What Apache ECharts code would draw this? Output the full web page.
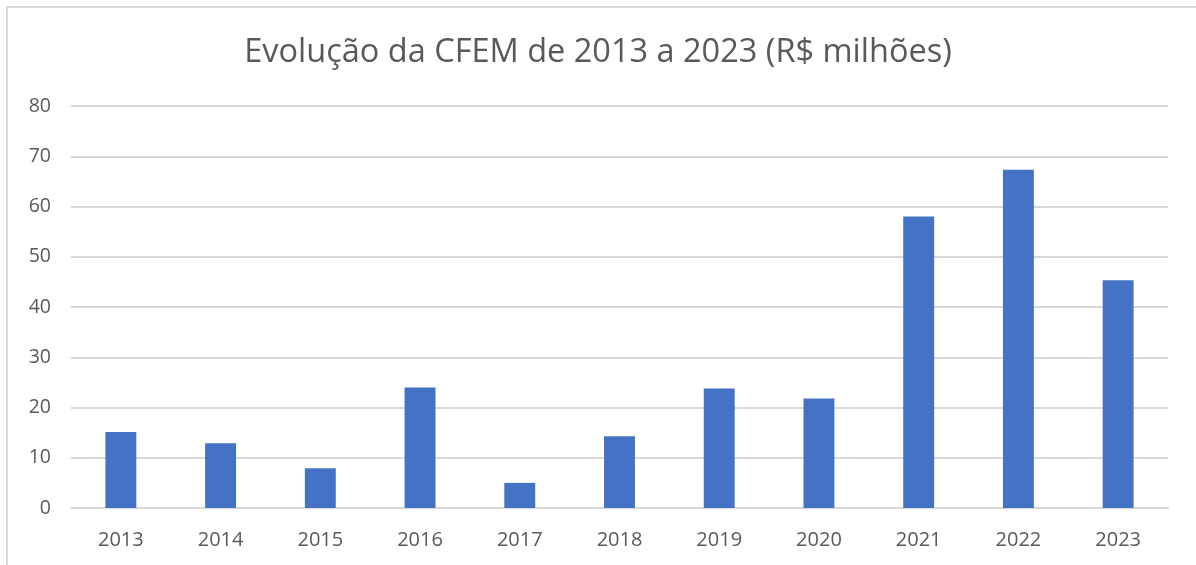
<!DOCTYPE html>
<html><head><meta charset="utf-8">
<script src="https://cdn.jsdelivr.net/npm/echarts@6/dist/echarts.min.js"></script>
<style>html,body{margin:0;padding:0;background:#fff}#c{width:1196px;height:565px}
#frame{position:absolute;left:6px;top:6px;width:1190px;height:560px;border-left:2px solid #d9d9d9;border-top:2px solid #d9d9d9;box-sizing:border-box;pointer-events:none}</style>
</head><body><div id="c"></div><div id="frame"></div>
<script>
const titleText = 'Evolução da CFEM de 2013 a 2023 (R$ milhões)';
const years = ['2013','2014','2015','2016','2017','2018','2019','2020','2021','2022','2023'];
const cfem = [15.1, 12.9, 7.9, 24.0, 5.0, 14.3, 23.8, 21.8, 58.0, 67.3, 45.3];
const yTicks = {min: 0, max: 80, interval: 10};

const chart = echarts.init(document.getElementById('c'), null, {renderer: 'canvas'});
chart.setOption({
  animation: false,
  backgroundColor: '#ffffff',
  textStyle: {fontFamily: 'Open Sans'},
  title: {
    text: titleText, left: 'center', top: 31,
    textStyle: {fontFamily: 'Open Sans', fontSize: 32.5, fontWeight: 'normal', color: '#595959'}
  },
  grid: {left: 71, right: 28, top: 106, bottom: 57},
  xAxis: {
    type: 'category', data: years,
    axisLine: {lineStyle: {color: '#d9d9d9', width: 2}},
    axisTick: {show: false},
    axisLabel: {color: '#595959', fontSize: 20, margin: 22}
  },
  yAxis: {
    type: 'value', min: yTicks.min, max: yTicks.max, interval: yTicks.interval,
    axisLine: {show: false}, axisTick: {show: false},
    splitLine: {lineStyle: {color: '#d9d9d9', width: 2}},
    axisLabel: {color: '#595959', fontSize: 19.5, margin: 20}
  },
  series: [{
    type: 'bar', data: cfem, barWidth: '31%',
    itemStyle: {color: '#4472C4'}
  }]
});
</script></body></html>
